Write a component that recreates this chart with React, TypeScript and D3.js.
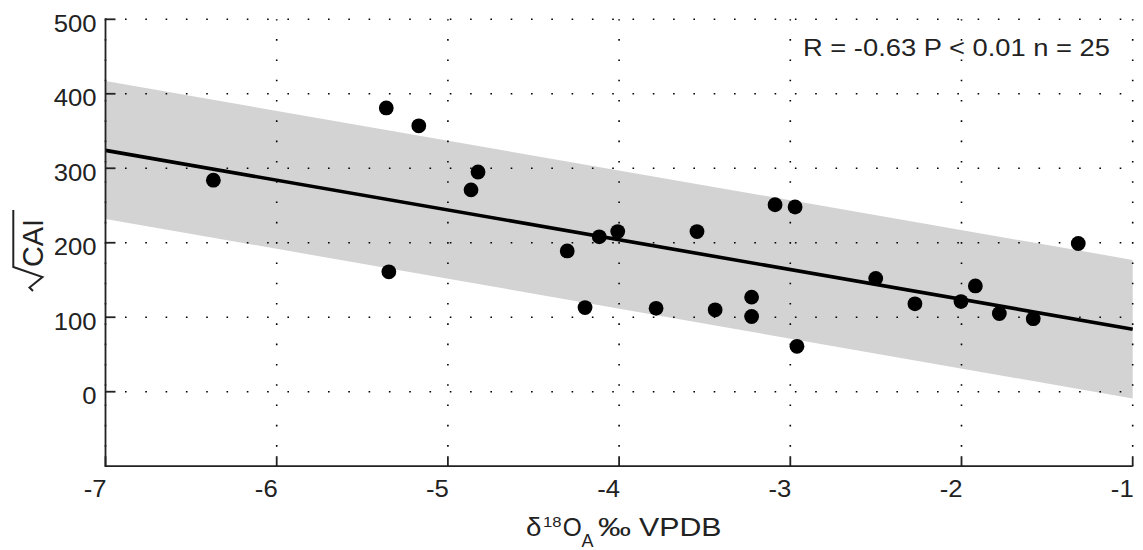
import React from "react";
import * as d3 from "d3";

// data
const d18O = [
  -6.37, -5.36, -5.17, -5.345, -4.865, -4.824, -4.303, -4.116, -4.008, -3.545,
  -4.199, -3.784, -3.439, -3.089, -2.972, -3.226, -3.226, -2.961, -2.501, -2.272,
  -2.003, -1.919, -1.779, -1.581, -1.318,
];
const sqrtCAI = [
  284, 381, 357, 161, 271, 295, 189, 208, 215, 215,
  113, 112, 110, 251, 248, 127, 101, 61, 152, 118,
  121, 142, 105, 98, 199,
];
const fitX = [-7, -1];
const fitY = [324, 84];
const bandUpper = [417, 177];
const bandLower = [232, -9];
const xTicks = [-7, -6, -5, -4, -3, -2, -1];
const yTicks = [0, 100, 200, 300, 400, 500];
const statsLabel = "R = -0.63 P < 0.01 n = 25";

const W = 1143;
const H = 550;
const FONT = "'Liberation Sans', Arial, sans-serif";
const INK = "#222";

export default function App() {
  const x = d3.scaleLinear().domain([-7, -1]).range([105.5, 1132.7]);
  const y = d3.scaleLinear().domain([-100, 500]).range([466.2, 19.3]);
  const [x0, x1] = x.range();
  const [yb, yt] = y.range();

  const band = d3
    .area<number>()
    .x((_, i) => x(fitX[i]))
    .y0((_, i) => y(bandLower[i]))
    .y1((_, i) => y(bandUpper[i]));
  const fit = d3
    .line<number>()
    .x((_, i) => x(fitX[i]))
    .y((_, i) => y(fitY[i]));

  const dots = "1.6 18.7";
  const cx = (x0 + x1) / 2;

  return (
    <svg
      width={W}
      height={H}
      style={{ position: "absolute", left: 0, top: 0, background: "#fff" }}
      fontFamily={FONT}
    >
      <path d={band(fitX) ?? ""} fill="#d3d3d3" />

      {/* dotted grid */}
      {yTicks.map((t) => (
        <line
          key={"gy" + t}
          x1={x0}
          x2={x1}
          y1={y(t)}
          y2={y(t)}
          stroke="#000"
          strokeWidth={1.6}
          strokeDasharray={dots}
          strokeDashoffset={0.8}
        />
      ))}
      {xTicks.map((t) => (
        <line
          key={"gx" + t}
          x1={x(t)}
          x2={x(t)}
          y1={yb}
          y2={yt}
          stroke="#000"
          strokeWidth={1.6}
          strokeDasharray={dots}
          strokeDashoffset={0.8}
        />
      ))}

      <path d={fit(fitX) ?? ""} fill="none" stroke="#000" strokeWidth={3.6} />

      {d18O.map((v, i) => (
        <circle key={i} cx={x(v)} cy={y(sqrtCAI[i])} r={7.4} fill="#000" />
      ))}

      {/* axes */}
      <line x1={x0} x2={x1} y1={yb} y2={yb} stroke={INK} strokeWidth={1.8} />
      <line x1={x0} x2={x0} y1={yb + 0.9} y2={yt - 1} stroke={INK} strokeWidth={1.8} />
      {xTicks.map((t) => (
        <g key={"tx" + t}>
          <line x1={x(t)} x2={x(t)} y1={yb} y2={yb - 10} stroke={INK} strokeWidth={1.8} />
          <text
            transform={`translate(${x(t) + 1},${yb + 30.5}) scale(1.07,1)`}
            textAnchor="end"
            fontSize={24}
            fill={INK}
          >
            {t}
          </text>
        </g>
      ))}
      {yTicks.map((t) => (
        <g key={"ty" + t}>
          <line x1={x0} x2={x0 + 10} y1={y(t)} y2={y(t)} stroke={INK} strokeWidth={1.8} />
          <text
            transform={`translate(${x0 - 9},${y(t) + 12.5}) scale(1.07,1)`}
            textAnchor="end"
            fontSize={24}
            fill={INK}
          >
            {t}
          </text>
        </g>
      ))}

      {/* annotation */}
      <text
        x={803}
        y={56}
        fontSize={24}
        fill={INK}
        textLength={307}
        lengthAdjust="spacingAndGlyphs"
      >
        {statsLabel}
      </text>

      {/* x title: δ18O_A ‰ VPDB */}
      <text y={536} fontSize={25} fill={INK}>
        <tspan x={cx - 93} textLength={15.5} lengthAdjust="spacingAndGlyphs">δ</tspan>
        <tspan x={cx - 76} dy={-9} fontSize={15} textLength={18.5} lengthAdjust="spacingAndGlyphs">18</tspan>
        <tspan x={cx - 56.4} dy={9} fontSize={26} textLength={19} lengthAdjust="spacingAndGlyphs">O</tspan>
        <tspan x={cx - 37.5} dy={10.5} fontSize={19} textLength={12} lengthAdjust="spacingAndGlyphs">A</tspan>
        <tspan x={cx - 21} dy={-10.5} textLength={33} lengthAdjust="spacingAndGlyphs">‰</tspan>
        <tspan x={cx + 20} textLength={82.5} lengthAdjust="spacingAndGlyphs">VPDB</tspan>
      </text>

      {/* y title: sqrt(CAI) */}
      <g transform="translate(43,248) rotate(-90)">
        <path
          d="M-43,-10 L-39.5,-13.5 L-29,-0.5 L-19,-29.7 L38,-29.7"
          fill="none"
          stroke={INK}
          strokeWidth={2}
          strokeLinejoin="miter"
        />
        <text
          x={-19}
          y={0}
          fontSize={29}
          fill={INK}
          textLength={48}
          lengthAdjust="spacingAndGlyphs"
        >
          CAI
        </text>
      </g>
    </svg>
  );
}
